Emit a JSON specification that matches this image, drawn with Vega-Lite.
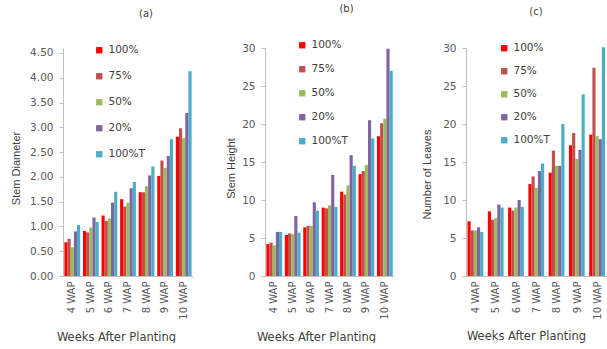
{
  "$schema": "https://vega.github.io/schema/vega-lite/v6.json",
  "padding": {"left": 10, "top": 4, "right": 0, "bottom": 0},
  "background": "white",
  "bounds": "flush",
  "spacing": 72,
  "data": {"values": [
    {"w": "4 WAP", "t": "100%", "d": 0.68, "h": 4.2, "n": 7.2},
    {"w": "4 WAP", "t": "75%", "d": 0.75, "h": 4.4, "n": 6.0},
    {"w": "4 WAP", "t": "50%", "d": 0.58, "h": 4.0, "n": 6.0},
    {"w": "4 WAP", "t": "20%", "d": 0.90, "h": 5.8, "n": 6.4},
    {"w": "4 WAP", "t": "100%T", "d": 1.03, "h": 5.8, "n": 5.8},
    {"w": "5 WAP", "t": "100%", "d": 0.91, "h": 5.4, "n": 8.5},
    {"w": "5 WAP", "t": "75%", "d": 0.88, "h": 5.6, "n": 7.4},
    {"w": "5 WAP", "t": "50%", "d": 0.98, "h": 5.5, "n": 7.6},
    {"w": "5 WAP", "t": "20%", "d": 1.18, "h": 7.9, "n": 9.4},
    {"w": "5 WAP", "t": "100%T", "d": 1.09, "h": 5.7, "n": 9.0},
    {"w": "6 WAP", "t": "100%", "d": 1.22, "h": 6.4, "n": 9.0},
    {"w": "6 WAP", "t": "75%", "d": 1.11, "h": 6.6, "n": 8.6},
    {"w": "6 WAP", "t": "50%", "d": 1.16, "h": 6.6, "n": 9.0},
    {"w": "6 WAP", "t": "20%", "d": 1.48, "h": 9.7, "n": 10.0},
    {"w": "6 WAP", "t": "100%T", "d": 1.70, "h": 8.6, "n": 9.1},
    {"w": "7 WAP", "t": "100%", "d": 1.55, "h": 9.0, "n": 12.1},
    {"w": "7 WAP", "t": "75%", "d": 1.40, "h": 8.9, "n": 13.1},
    {"w": "7 WAP", "t": "50%", "d": 1.48, "h": 9.3, "n": 11.6},
    {"w": "7 WAP", "t": "20%", "d": 1.77, "h": 13.3, "n": 13.8},
    {"w": "7 WAP", "t": "100%T", "d": 1.90, "h": 9.1, "n": 14.8},
    {"w": "8 WAP", "t": "100%", "d": 1.69, "h": 11.1, "n": 13.6},
    {"w": "8 WAP", "t": "75%", "d": 1.69, "h": 10.7, "n": 16.5},
    {"w": "8 WAP", "t": "50%", "d": 1.81, "h": 11.9, "n": 14.5},
    {"w": "8 WAP", "t": "20%", "d": 2.03, "h": 15.9, "n": 14.5},
    {"w": "8 WAP", "t": "100%T", "d": 2.21, "h": 14.5, "n": 20.0},
    {"w": "9 WAP", "t": "100%", "d": 2.02, "h": 13.4, "n": 17.2},
    {"w": "9 WAP", "t": "75%", "d": 2.33, "h": 13.8, "n": 18.8},
    {"w": "9 WAP", "t": "50%", "d": 2.18, "h": 14.6, "n": 15.4},
    {"w": "9 WAP", "t": "20%", "d": 2.42, "h": 20.5, "n": 16.6},
    {"w": "9 WAP", "t": "100%T", "d": 2.76, "h": 18.1, "n": 23.9},
    {"w": "10 WAP", "t": "100%", "d": 2.81, "h": 18.4, "n": 18.6},
    {"w": "10 WAP", "t": "75%", "d": 2.98, "h": 20.1, "n": 27.4},
    {"w": "10 WAP", "t": "50%", "d": 2.78, "h": 20.7, "n": 18.4},
    {"w": "10 WAP", "t": "20%", "d": 3.29, "h": 29.9, "n": 18.0},
    {"w": "10 WAP", "t": "100%T", "d": 4.13, "h": 27.0, "n": 30.1}
  ]},
  "config": {
    "view": {"stroke": null},
    "font": "DejaVu Sans",
    "axis": {
      "grid": false,
      "domainColor": "#bfbfbf",
      "tickColor": "#bfbfbf",
      "labelColor": "#595959",
      "labelFont": "DejaVu Sans",
      "labelFontSize": 10,
      "titleColor": "#404040",
      "titleFontWeight": "normal"
    },
    "axisX": {
      "labelAngle": -90,
      "ticks": false,
      "labelPadding": 5,
      "titleFont": "DejaVu Sans",
      "titleFontSize": 11.5,
      "titleBaseline": "middle"
    },
    "axisY": {
      "tickSize": 4,
      "labelPadding": 6,
      "labelFontSize": 10.5,
      "titleFont": "Liberation Sans",
      "titleFontSize": 11,
      "titleBaseline": "middle"
    },
    "legend": {
      "symbolType": "square",
      "symbolSize": 40,
      "symbolStrokeWidth": 0,
      "labelFont": "DejaVu Sans",
      "labelFontSize": 10.5,
      "labelColor": "#404040",
      "labelOffset": 4,
      "padding": 0
    },
    "title": {"font": "DejaVu Sans", "fontSize": 10, "fontWeight": "normal", "color": "#404040", "anchor": "middle", "offset": 26}
  },
  "resolve": {"legend": {"color": "independent"}, "scale": {"y": "independent"}},
  "hconcat": [
    {
      "width": 130, "height": 228,
      "title": {"text": "(a)", "dx": 18},
      "mark": {"type": "bar"},
      "encoding": {
        "x": {"field": "w", "type": "nominal", "sort": ["4 WAP","5 WAP","6 WAP","7 WAP","8 WAP","9 WAP","10 WAP"], "scale": {"paddingInner": 0.15, "paddingOuter": 0.075}, "axis": {"title": "Weeks After Planting", "titleX": 53, "titleY": 61}},
        "xOffset": {"field": "t", "type": "nominal", "sort": ["100%","75%","50%","20%","100%T"], "scale": {"paddingInner": 0, "paddingOuter": 0}},
        "y": {"field": "d", "type": "quantitative", "scale": {"domain": [0, 4.6], "nice": false}, "axis": {"values": [0,0.5,1,1.5,2,2.5,3,3.5,4,4.5], "format": ".2f", "title": "Stem Diameter", "titleX": -47, "titleY": 120}},
        "color": {"field": "t", "type": "nominal", "sort": ["100%","75%","50%","20%","100%T"], "scale": {"domain": ["100%","75%","50%","20%","100%T"], "range": ["#ff0000","#c0504d","#9bbb59","#8064a2","#4bacc6"]}, "legend": {"title": null, "orient": "none", "legendX": 31, "legendY": -3, "rowPadding": 15}}
      }
    },
    {
      "width": 129, "height": 228,
      "title": {"text": "(b)", "dx": 17},
      "mark": {"type": "bar"},
      "encoding": {
        "x": {"field": "w", "type": "nominal", "sort": ["4 WAP","5 WAP","6 WAP","7 WAP","8 WAP","9 WAP","10 WAP"], "scale": {"paddingInner": 0.15, "paddingOuter": 0.075}, "axis": {"title": "Weeks After Planting", "titleX": 51, "titleY": 61}},
        "xOffset": {"field": "t", "type": "nominal", "sort": ["100%","75%","50%","20%","100%T"], "scale": {"paddingInner": 0, "paddingOuter": 0}},
        "y": {"field": "h", "type": "quantitative", "scale": {"domain": [0, 30], "nice": false}, "axis": {"values": [0,5,10,15,20,25,30], "title": "Stem Height", "titleX": -34, "titleY": 120}},
        "color": {"field": "t", "type": "nominal", "sort": ["100%","75%","50%","20%","100%T"], "scale": {"domain": ["100%","75%","50%","20%","100%T"], "range": ["#ff0000","#c0504d","#9bbb59","#8064a2","#4bacc6"]}, "legend": {"title": null, "orient": "none", "legendX": 32, "legendY": -8, "rowPadding": 13}}
      }
    },
    {
      "width": 142, "height": 228,
      "title": {"text": "(c)", "dx": -1},
      "mark": {"type": "bar"},
      "encoding": {
        "x": {"field": "w", "type": "nominal", "sort": ["4 WAP","5 WAP","6 WAP","7 WAP","8 WAP","9 WAP","10 WAP"], "scale": {"paddingInner": 0.15, "paddingOuter": 0.075}, "axis": {"title": "Weeks After Planting", "titleX": 60, "titleY": 60}},
        "xOffset": {"field": "t", "type": "nominal", "sort": ["100%","75%","50%","20%","100%T"], "scale": {"paddingInner": 0, "paddingOuter": 0}},
        "y": {"field": "n", "type": "quantitative", "scale": {"domain": [0, 30], "nice": false}, "axis": {"values": [0,5,10,15,20,25,30], "title": "Number of Leaves", "titleX": -39, "titleY": 126}},
        "color": {"field": "t", "type": "nominal", "sort": ["100%","75%","50%","20%","100%T"], "scale": {"domain": ["100%","75%","50%","20%","100%T"], "range": ["#ff0000","#c0504d","#9bbb59","#8064a2","#4bacc6"]}, "legend": {"title": null, "orient": "none", "legendX": 33, "legendY": -5, "rowPadding": 12}}
      }
    }
  ]
}
